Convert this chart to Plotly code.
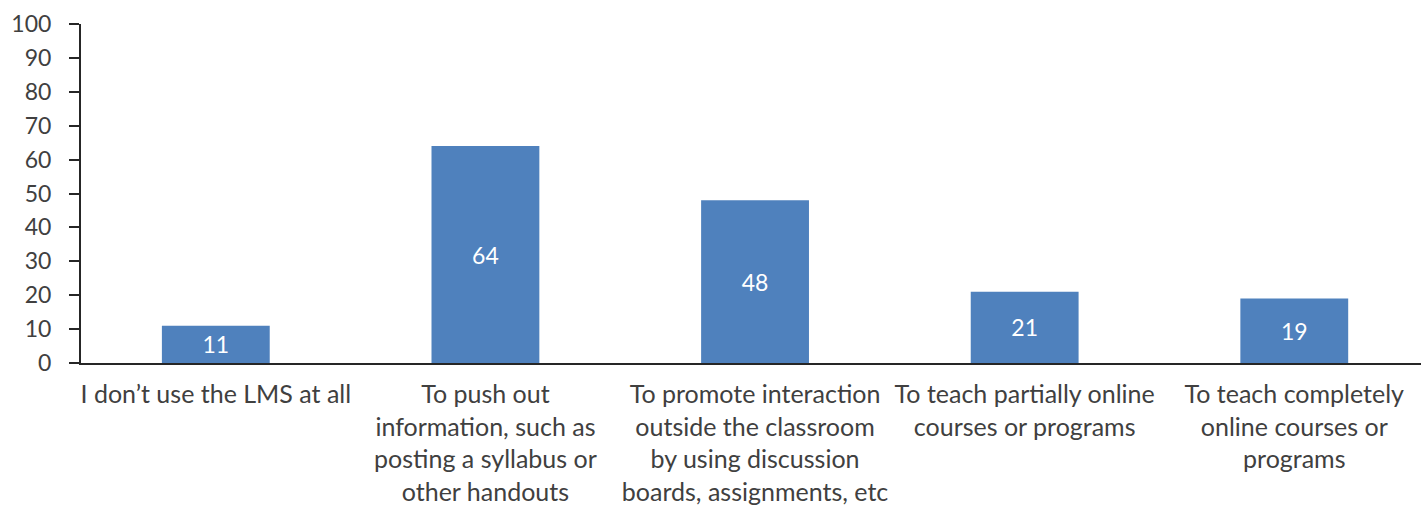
import plotly.graph_objects as go

categories = [
    "I don’t use the LMS at all",
    "To push out<br>information, such as<br>posting a syllabus or<br>other handouts",
    "To promote interaction<br>outside the classroom<br>by using discussion<br>boards, assignments, etc",
    "To teach partially online<br>courses or programs",
    "To teach completely<br>online courses or<br>programs",
]
values = [11, 64, 48, 21, 19]
y_ticks = list(range(0, 101, 10))

fig = go.Figure(
    go.Bar(
        x=categories,
        y=values,
        marker=dict(color="#4F81BD", line=dict(width=0)),
        text=[str(v) for v in values],
        textposition="inside",
        insidetextanchor="middle",
        textfont=dict(color="white", size=23, family="Lato"),
        cliponaxis=False,
    )
)

fig.update_layout(
    width=1421,
    height=507,
    margin=dict(l=81, r=0, t=24, b=144),
    paper_bgcolor="white",
    plot_bgcolor="white",
    bargap=0.6,
    showlegend=False,
    font=dict(family="Lato", size=23, color="#404040"),
    xaxis=dict(
        type="category",
        range=[-0.5, 4.47],
        showline=True,
        linecolor="#262626",
        linewidth=2,
        ticks="",
        showgrid=False,
        tickangle=0,
        automargin=False,
        tickfont=dict(size=25, color="#404040"),
        ticklabelstandoff=8,
    ),
    yaxis=dict(
        range=[0, 100],
        tickvals=y_ticks,
        showline=True,
        linecolor="#262626",
        linewidth=2,
        ticks="outside",
        ticklen=10,
        tickwidth=2,
        tickcolor="#262626",
        showgrid=False,
        zeroline=False,
        automargin=False,
        tickfont=dict(size=23, color="#404040"),
        ticklabelstandoff=13,
    ),
)

fig.write_html("out.html")
